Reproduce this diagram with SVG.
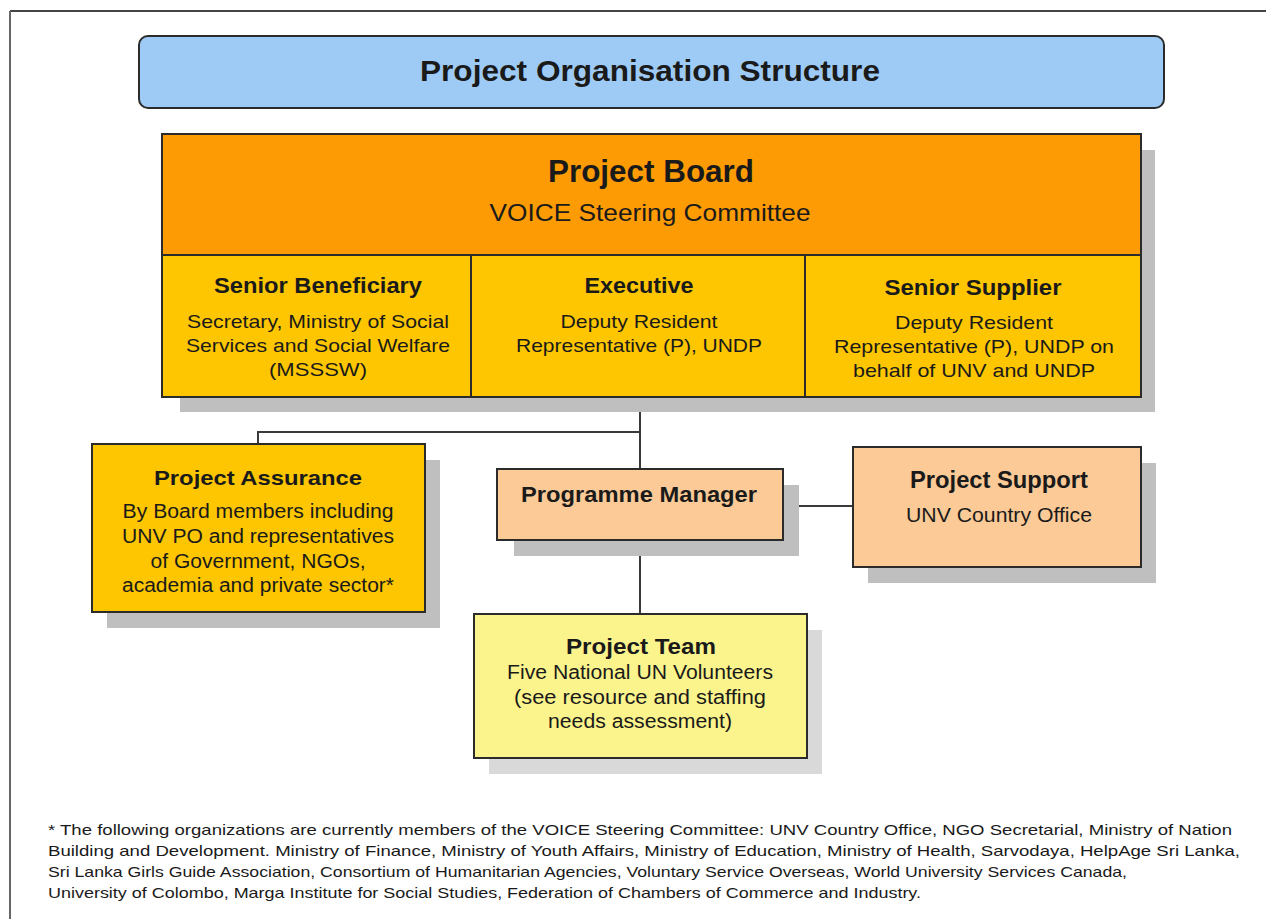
<svg xmlns="http://www.w3.org/2000/svg" width="1273" height="919" viewBox="0 0 1273 919">
<style>
.box{stroke:#2b2b2b;stroke-width:2}
.sh{fill:#bfbfbf}
.t{font-family:"Liberation Sans",Arial,sans-serif;fill:#1a1a1a;text-anchor:middle}
.b{font-weight:bold}
.fn{font-family:"Liberation Sans",Arial,sans-serif;fill:#1a1a1a;font-size:14.5px}
.ln{stroke:#3a3a3a;stroke-width:2;fill:none}
</style>
<rect width="1273" height="919" fill="#ffffff"/>
<g id="frame">
<line x1="10" y1="11" x2="1266" y2="11" stroke="#444" stroke-width="2"/>
<line x1="10" y1="11" x2="10" y2="919" stroke="#666" stroke-width="2"/>
</g>
<g id="connectors">
<line class="ln" x1="640" y1="398" x2="640" y2="469"/>
<polyline class="ln" points="640,432 258,432 258,445"/>
<line class="ln" x1="783" y1="506" x2="853" y2="506"/>
<line class="ln" x1="640" y1="540" x2="640" y2="614"/>
</g>
<g id="title">
<rect x="139" y="36" width="1025" height="72" rx="9" fill="#9ecbf5" class="box"/>
<text class="t b" x="650" y="81" font-size="30" textLength="460" lengthAdjust="spacingAndGlyphs">Project Organisation Structure</text>
</g>
<g id="project-board">
<rect class="sh" x="180" y="150" width="975" height="262"/>
<rect x="162" y="134" width="979" height="121" fill="#fd9b05" class="box"/>
<text class="t b" x="651" y="182" font-size="31" textLength="206" lengthAdjust="spacingAndGlyphs">Project Board</text>
<text class="t" x="650" y="221" font-size="24" textLength="321" lengthAdjust="spacingAndGlyphs">VOICE Steering Committee</text>
</g>
<g id="senior-beneficiary">
<rect x="162" y="255" width="309" height="142" fill="#fdc600" class="box"/>
<text class="t b" x="318" y="293" font-size="22" textLength="208" lengthAdjust="spacingAndGlyphs">Senior Beneficiary</text>
<text class="t" x="318" y="328" font-size="19" textLength="262" lengthAdjust="spacingAndGlyphs">Secretary, Ministry of Social</text>
<text class="t" x="318" y="352" font-size="19" textLength="264" lengthAdjust="spacingAndGlyphs">Services and Social Welfare</text>
<text class="t" x="318" y="376" font-size="19" textLength="98" lengthAdjust="spacingAndGlyphs">(MSSSW)</text>
</g>
<g id="executive">
<rect x="471" y="255" width="334" height="142" fill="#fdc600" class="box"/>
<text class="t b" x="639" y="293" font-size="22" textLength="109" lengthAdjust="spacingAndGlyphs">Executive</text>
<text class="t" x="639" y="328" font-size="19" textLength="157" lengthAdjust="spacingAndGlyphs">Deputy Resident</text>
<text class="t" x="639" y="352" font-size="19" textLength="246" lengthAdjust="spacingAndGlyphs">Representative (P), UNDP</text>
</g>
<g id="senior-supplier">
<rect x="805" y="255" width="336" height="142" fill="#fdc600" class="box"/>
<text class="t b" x="973" y="295" font-size="22" textLength="177" lengthAdjust="spacingAndGlyphs">Senior Supplier</text>
<text class="t" x="974" y="329" font-size="19" textLength="158" lengthAdjust="spacingAndGlyphs">Deputy Resident</text>
<text class="t" x="974" y="353" font-size="19" textLength="280" lengthAdjust="spacingAndGlyphs">Representative (P), UNDP on</text>
<text class="t" x="974" y="377" font-size="19" textLength="242" lengthAdjust="spacingAndGlyphs">behalf of UNV and UNDP</text>
</g>
<g id="project-assurance">
<rect class="sh" x="107" y="460" width="333" height="168"/>
<rect x="92" y="444" width="333" height="168" fill="#fdc600" class="box"/>
<text class="t b" x="258" y="485" font-size="21" textLength="208" lengthAdjust="spacingAndGlyphs">Project Assurance</text>
<text class="t" x="258" y="518" font-size="20" textLength="271" lengthAdjust="spacingAndGlyphs">By Board members including</text>
<text class="t" x="258" y="543" font-size="20" textLength="272" lengthAdjust="spacingAndGlyphs">UNV PO and representatives</text>
<text class="t" x="258" y="568" font-size="20" textLength="215" lengthAdjust="spacingAndGlyphs">of Government, NGOs,</text>
<text class="t" x="258" y="592" font-size="20" textLength="272" lengthAdjust="spacingAndGlyphs">academia and private sector*</text>
</g>
<g id="programme-manager">
<rect class="sh" x="514" y="485" width="285" height="71"/>
<rect x="497" y="469" width="286" height="71" fill="#fbca96" class="box"/>
<text class="t b" x="639" y="502" font-size="22" textLength="236" lengthAdjust="spacingAndGlyphs">Programme Manager</text>
</g>
<g id="project-support">
<rect class="sh" x="868" y="463" width="288" height="120"/>
<rect x="853" y="447" width="288" height="120" fill="#fbca96" class="box"/>
<text class="t b" x="999" y="488" font-size="23" textLength="178" lengthAdjust="spacingAndGlyphs">Project Support</text>
<text class="t" x="999" y="522" font-size="21" textLength="186" lengthAdjust="spacingAndGlyphs">UNV Country Office</text>
</g>
<g id="project-team">
<rect class="sh" x="489" y="630" width="333" height="144" opacity="0.6"/>
<rect x="474" y="614" width="333" height="144" fill="#fbf48c" class="box"/>
<text class="t b" x="641" y="654" font-size="22" textLength="150" lengthAdjust="spacingAndGlyphs">Project Team</text>
<text class="t" x="640" y="679" font-size="20" textLength="266" lengthAdjust="spacingAndGlyphs">Five National UN Volunteers</text>
<text class="t" x="640" y="704" font-size="20" textLength="252" lengthAdjust="spacingAndGlyphs">(see resource and staffing</text>
<text class="t" x="640" y="728" font-size="20" textLength="184" lengthAdjust="spacingAndGlyphs">needs assessment)</text>
</g>
<g id="footnote">
<text class="fn" x="48" y="835" textLength="1184" lengthAdjust="spacingAndGlyphs">* The following organizations are currently members of the VOICE Steering Committee: UNV Country Office, NGO Secretarial, Ministry of Nation</text>
<text class="fn" x="48" y="856" textLength="1192" lengthAdjust="spacingAndGlyphs">Building and Development. Ministry of Finance, Ministry of Youth Affairs, Ministry of Education, Ministry of Health, Sarvodaya, HelpAge Sri Lanka,</text>
<text class="fn" x="48" y="877" textLength="1079" lengthAdjust="spacingAndGlyphs">Sri Lanka Girls Guide Association, Consortium of Humanitarian Agencies, Voluntary Service Overseas, World University Services Canada,</text>
<text class="fn" x="48" y="898" textLength="873" lengthAdjust="spacingAndGlyphs">University of Colombo, Marga Institute for Social Studies, Federation of Chambers of Commerce and Industry.</text>
</g>
</svg>
